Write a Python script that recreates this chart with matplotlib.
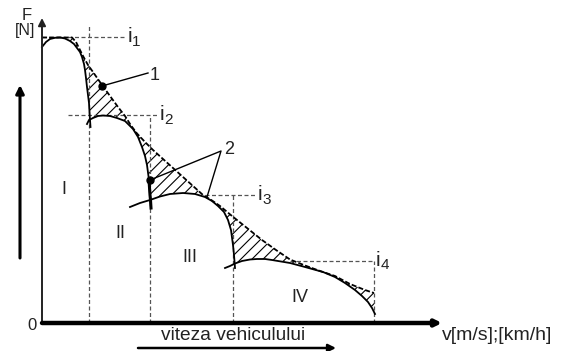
import numpy as np
import matplotlib
matplotlib.use("Agg")
import matplotlib.pyplot as plt

plt.rcParams["font.family"] = ["Liberation Sans", "DejaVu Sans"]
plt.rcParams["hatch.linewidth"] = 0.8

# traction curves for each gear (v, F), arbitrary units
g1_v = np.array([0, 4, 8, 13, 18, 23, 28, 32, 35, 38, 40, 42, 43, 44, 45, 46, 47, 47.5, 48, 48.5])
g1_F = np.array([276, 281, 284, 285.2, 285.5, 284.5, 282, 279, 275, 271, 266, 259, 253, 245, 236, 228, 220, 211, 203, 196])

g2_v = np.array([45, 47, 51, 56, 61, 68, 75, 83, 91, 96, 100, 103, 105, 107, 108, 108.5, 109])
g2_F = np.array([199, 203, 205, 207, 207.5, 207, 205, 202, 194, 186, 176, 167, 158, 143, 128, 123, 115])

g3_v = np.array([88, 98, 108, 118, 128, 141, 153, 163, 170, 176, 182, 186, 189, 191, 192, 193])
g3_F = np.array([116, 120, 123, 126.5, 129, 130, 129, 126, 122, 117, 111, 103, 93, 78, 68, 55])

g4_v = np.array([183, 188, 193, 200, 208, 215, 223, 230, 239, 248, 263, 281, 293, 303, 313, 320, 326, 330, 333])
g4_F = np.array([55, 57, 59.5, 62, 63.5, 64, 64, 63, 61.5, 60, 56, 51, 46, 40, 33, 27, 21, 15, 9])

# ideal traction hyperbola
ideal_v = np.array([0, 30, 34, 38, 41, 46, 51, 60, 68, 76, 83, 89, 95, 103, 111, 121, 131, 141,
                    151, 161, 170, 178, 190, 205, 220, 234, 248, 263, 278, 293, 308, 323, 332])
ideal_F = np.array([285.5, 285.5, 281, 273, 267, 258, 251, 238, 227, 216, 207, 197.5, 189.5, 181,
                    173, 164, 155, 146, 137, 128, 122.5, 117, 107, 95, 83, 73, 63.5, 57.5, 52, 47,
                    39, 33, 30])

# gear change speeds and ratio levels
shift_v = [47, 108, 191, 332]
ratio_F = [286, 208, 128, 62]
ratio_span = [(0, 83), (26, 115), (163, 213), (248, 332)]
ratio_labels = ["1", "2", "3", "4"]
roman = ["I", "II", "III", "IV"]
roman_pos = [(22, 133), (78, 90), (148, 65), (258, 26)]

fig = plt.figure(figsize=(5.63, 3.51), dpi=100)
ax = fig.add_axes([0, 0, 1, 1])
ax.set_xlim(-42, 521)
ax.set_ylim(-28, 323)
ax.axis("off")

# hatched area between ideal curve and gear envelope
m1 = g1_v <= 47.5
m2 = (g2_v >= 47) & (g2_v <= 108)
m3 = (g3_v >= 108) & (g3_v < 193)
m4 = g4_v >= 193
env_v = np.concatenate([g1_v[m1], g2_v[m2], g3_v[m3], g4_v[m4]])
env_F = np.concatenate([g1_F[m1], g2_F[m2], g3_F[m3], g4_F[m4]])
ax.fill(np.concatenate([ideal_v, env_v[::-1]]), np.concatenate([ideal_F, env_F[::-1]]),
        facecolor="none", edgecolor="black", hatch="///", linewidth=0)

# dashed guide lines
gc = "#555555"
dash = dict(color=gc, lw=0.9, dashes=(3.2, 2))
ax.plot([shift_v[0], shift_v[0]], [0, 298], **dash)
for k in range(1, 4):
    ax.plot([shift_v[k], shift_v[k]], [0, ratio_F[k]], **dash)
for k in range(4):
    ax.plot(ratio_span[k], [ratio_F[k], ratio_F[k]], **dash)

# gear curves
for v, F in [(g1_v, g1_F), (g2_v, g2_F), (g3_v, g3_F), (g4_v, g4_F)]:
    ax.plot(v, F, color="black", lw=1.3)
ax.plot(g2_v[g2_F <= 143], g2_F[g2_F <= 143], color="black", lw=2.2)
ax.plot(ideal_v, ideal_F, color="black", lw=1.3, dashes=(2.8, 1.2))

# axes with arrows
ax.annotate("", xy=(0, 305), xytext=(0, 0),
            arrowprops=dict(arrowstyle="-|>", color="#222222", lw=1.4, mutation_scale=11, shrinkA=0, shrinkB=0))
ax.annotate("", xy=(400, 0), xytext=(0, 0),
            arrowprops=dict(arrowstyle="-|>", color="black", lw=3.2, mutation_scale=9, shrinkA=0, shrinkB=0))
ax.annotate("", xy=(-22, 238), xytext=(-22, 65),
            arrowprops=dict(arrowstyle="-|>", color="black", lw=2.2, mutation_scale=12, shrinkA=0, shrinkB=0))
ax.annotate("", xy=(294, -25), xytext=(96, -25),
            arrowprops=dict(arrowstyle="-|>", color="black", lw=1.8, mutation_scale=11, shrinkA=0, shrinkB=0))

# texts
tc = "#222222"
ax.text(-15, 308, "F", fontsize=12, ha="center", va="center", color=tc)
ax.text(-17, 292, "[N]", fontsize=11.5, ha="center", va="center", color=tc)
ax.text(-10, -2, "0", fontsize=12, ha="center", va="center", color=tc)
ax.text(191, -12, "viteza vehiculului", fontsize=13.8, ha="center", va="center", color=tc)
ax.text(400, -13, "v[m/s];[km/h]", fontsize=14, ha="left", va="center", color=tc)

lab_i = [(88, 286.5), (120, 208), (218, 128), (336, 63)]
for k in range(4):
    x, y = lab_i[k]
    ax.text(x, y, "i", fontsize=15, ha="center", va="center", color=tc)
    ax.text(x + 6.5, y - 5, ratio_labels[k], fontsize=11, ha="center", va="center", color=tc)

for k in range(4):
    ax.text(roman_pos[k][0], roman_pos[k][1], roman[k], fontsize=13, ha="center", va="center", color=tc)

# callouts
ax.plot([60, 106], [237, 250], color="black", lw=1)
ax.plot(60, 237, "o", color="black", ms=5)
ax.text(113, 248, "1", fontsize=13, ha="center", va="center", color=tc)
ax.plot([108, 179, 165], [143, 172, 126], color="black", lw=1)
ax.plot(108, 143, "o", color="black", ms=5)
ax.text(187, 174, "2", fontsize=13, ha="center", va="center", color=tc)

fig.savefig("out.png", dpi=100)
